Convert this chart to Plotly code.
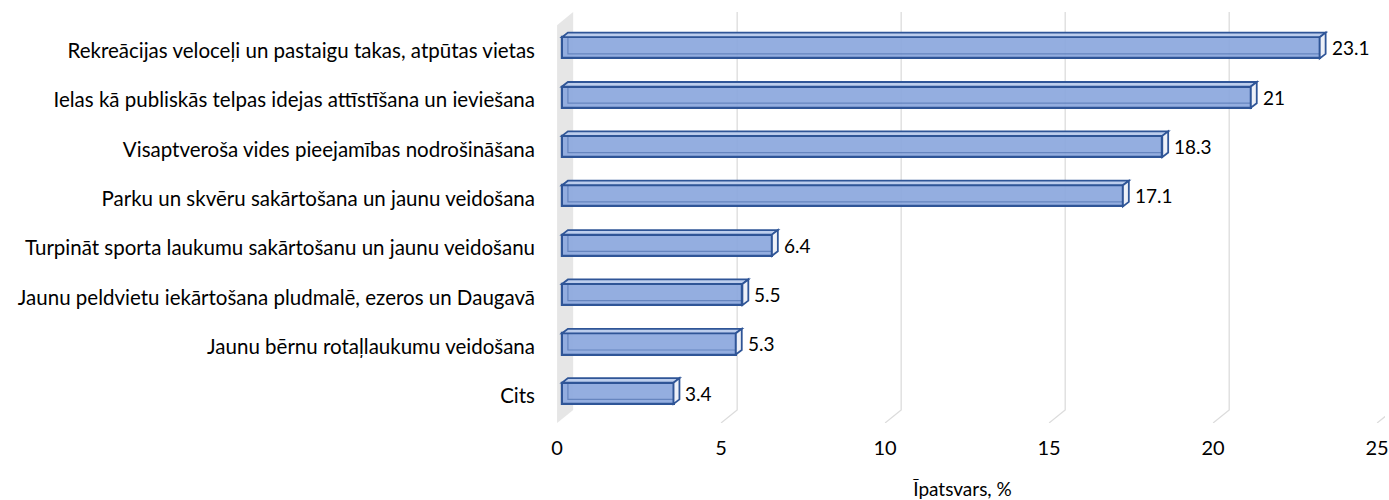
import plotly.graph_objects as go

categories = [
    "Rekreācijas veloceļi un pastaigu takas, atpūtas vietas",
    "Ielas kā publiskās telpas idejas attīstīšana un ieviešana",
    "Visaptveroša vides pieejamības nodrošināšana",
    "Parku un skvēru sakārtošana un jaunu veidošana",
    "Turpināt sporta laukumu sakārtošanu un jaunu veidošanu",
    "Jaunu peldvietu iekārtošana pludmalē, ezeros un Daugavā",
    "Jaunu bērnu rotaļlaukumu veidošana",
    "Cits",
]
values = [23.1, 21, 18.3, 17.1, 6.4, 5.5, 5.3, 3.4]
x_ticks = [0, 5, 10, 15, 20, 25]
x_title = "Īpatsvars, %"

FONT = "Lato"
EDGE = "#2F5597"
FRONT = "rgba(140,168,222,0.93)"
TOP = "rgba(185,203,236,0.95)"
SIDE = "rgba(236,240,247,0.97)"
GRID = "#dcdcdc"

# 3D geometry (in axis units)
bar_w = 0.43          # front face height in category units
bdx, bdy = 0.18, 0.092   # bar depth offset (x right, y up)
wall_back = 0.34      # back wall x offset relative to bar front
floor_front = -0.15   # front floor x offset
y_top_back, y_top_front = -0.724, -0.459
y_bot_back, y_bot_front = 7.337, 7.60

ypos = list(range(len(categories)))

fig = go.Figure()

shapes = []
# side wall
shapes.append(dict(type="path", xref="x", yref="y", layer="below",
                   path=f"M {floor_front},{y_top_front} L {wall_back},{y_top_back} L {wall_back},{y_bot_back} L {floor_front},{y_bot_front} Z",
                   fillcolor="#e6e6e6", line=dict(width=0)))
# gridlines on back wall + floor diagonals
for t in x_ticks[1:]:
    shapes.append(dict(type="path", xref="x", yref="y", layer="below",
                       path=f"M {t + wall_back},{y_top_back} L {t + wall_back},{y_bot_back} L {t + floor_front},{y_bot_front}",
                       line=dict(color=GRID, width=1.3)))

fig.add_trace(go.Bar(
    x=values, y=ypos, orientation="h", width=bar_w,
    marker=dict(color=FRONT, line=dict(color=EDGE, width=2.2)),
    hoverinfo="skip", showlegend=False,
))

for v, y in zip(values, ypos):
    top = y - bar_w / 2
    bot = y + bar_w / 2
    # hidden back edges
    shapes.append(dict(type="path", xref="x", yref="y", layer="above",
                       path=f"M {bdx},{top - bdy} L {bdx},{bot - bdy} L {v + bdx},{bot - bdy}",
                       line=dict(color="rgba(47,85,151,0.45)", width=1.2)))
    # top face
    shapes.append(dict(type="path", xref="x", yref="y", layer="above",
                       path=f"M 0,{top} L {bdx},{top - bdy} L {v + bdx},{top - bdy} L {v},{top} Z",
                       fillcolor=TOP, line=dict(color=EDGE, width=1.8)))
    # right face
    shapes.append(dict(type="path", xref="x", yref="y", layer="above",
                       path=f"M {v},{top} L {v + bdx},{top - bdy} L {v + bdx},{bot - bdy} L {v},{bot} Z",
                       fillcolor=SIDE, line=dict(color=EDGE, width=1.8)))

annotations = []
for v, y in zip(values, ypos):
    annotations.append(dict(x=v + bdx, y=y, xref="x", yref="y", text=f"{v:g}",
                            showarrow=False, xanchor="left", yanchor="middle", xshift=4, yshift=0,
                            font=dict(family=FONT, size=19, color="black")))

fig.update_layout(
    width=1389, height=500,
    margin=dict(l=540, r=4, t=5, b=77),
    plot_bgcolor="white", paper_bgcolor="white",
    shapes=shapes, annotations=annotations,
    bargap=0,
    font=dict(family=FONT, size=20, color="black"),
)
fig.update_xaxes(range=[-0.671, 25.09], tickvals=x_ticks, ticktext=[str(t) for t in x_ticks],
                 showgrid=False, zeroline=False, showline=False, ticks="", automargin=False,
                 ticklabelshift=-5, ticklabelstandoff=11,
                 tickfont=dict(family=FONT, size=20),
                 title=dict(text=x_title, font=dict(family=FONT, size=19), standoff=24))
fig.update_yaxes(range=[7.602, -0.867], tickvals=ypos, ticktext=categories,
                 showgrid=False, zeroline=False, showline=False, ticks="", automargin=False,
                 tickfont=dict(family=FONT, size=20.5),
                 ticklabelstandoff=4, ticklabelshift=-3)

fig.write_html("out.html", config={"displayModeBar": False},
               post_script="document.body.style.margin='0';")
